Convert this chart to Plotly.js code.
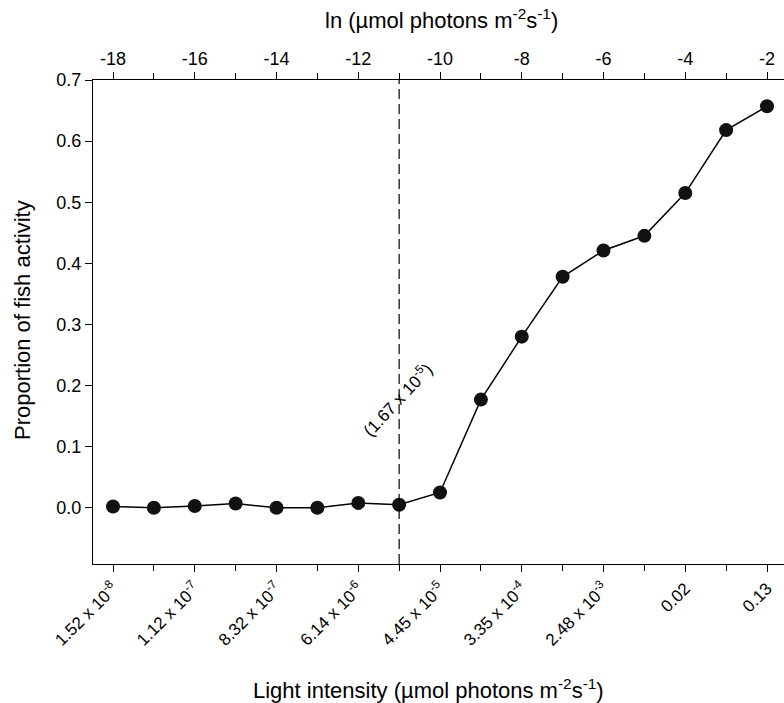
<!DOCTYPE html>
<html>
<head>
<meta charset="utf-8">
<script src="https://cdn.plot.ly/plotly-3.0.1.min.js"></script>
<style>html,body{margin:0;padding:0;background:#fff;}#chart{width:784px;height:703px;}</style>
</head>
<body>
<div id="chart"></div>
<script>
// ln(light intensity) values of the measurements
const lnIntensity = [-18, -17, -16, -15, -14, -13, -12, -11, -10, -9, -8, -7, -6, -5, -4, -3, -2];
// proportion of fish activity
const activity = [0.002, 0.000, 0.003, 0.007, 0.000, 0.000, 0.008, 0.005, 0.025, 0.177, 0.280, 0.378, 0.421, 0.445, 0.515, 0.618, 0.657];
// tick labels
const topTickVals = [-18, -16, -14, -12, -10, -8, -6, -4, -2];
const topTickText = ["-18", "-16", "-14", "-12", "-10", "-8", "-6", "-4", "-2"];
const bottomTickText = ["1.52 x 10<sup>-8</sup>", "1.12 x 10<sup>-7</sup>", "8.32 x 10<sup>-7</sup>", "6.14 x 10<sup>-6</sup>",
  "4.45 x 10<sup>-5</sup>", "3.35 x 10<sup>-4</sup>", "2.48 x 10<sup>-3</sup>", "0.02", "0.13"];
const thresholdLn = -11;
const thresholdLabel = "(1.67 x 10<sup>-5</sup>)";

const FONT = "Liberation Sans, Arial, sans-serif";
const xRange = [-18.49, -1.584];
const yRange = [-0.092, 0.7];

const traces = [
  {x: lnIntensity, y: activity, type: 'scatter', mode: 'lines+markers',
   line: {color: '#000', width: 1.5}, marker: {color: '#111', size: 14},
   hoverinfo: 'x+y', xaxis: 'x', yaxis: 'y'},
  {x: lnIntensity, y: activity, type: 'scatter', mode: 'markers',
   marker: {opacity: 0}, hoverinfo: 'skip', showlegend: false, xaxis: 'x2', yaxis: 'y'}
];

const minorTicks = {dtick: 1, tick0: -18, ticks: 'outside', ticklen: 6, tickcolor: '#000', tickwidth: 1, showgrid: false};

const layout = {
  width: 784, height: 703,
  margin: {l: 93, r: 0, t: 80, b: 139},
  paper_bgcolor: '#fff', plot_bgcolor: '#fff',
  showlegend: false,
  font: {family: FONT, color: '#000', size: 17},
  xaxis: {
    range: xRange, tickmode: 'array', tickvals: topTickVals, ticktext: bottomTickText,
    tickangle: -45, ticks: 'outside', ticklen: 7, tickcolor: '#000',
    showline: true, linecolor: '#000', linewidth: 1, showgrid: false, zeroline: false,
    tickfont: {family: FONT, size: 17, color: '#000'}, minor: minorTicks
  },
  xaxis2: {
    range: xRange, overlaying: 'x', side: 'top', anchor: 'y',
    tickmode: 'array', tickvals: topTickVals, ticktext: topTickText,
    ticks: 'outside', ticklen: 7, tickcolor: '#000',
    showline: true, linecolor: '#000', linewidth: 1, showgrid: false, zeroline: false,
    tickfont: {family: FONT, size: 18, color: '#000'}, minor: minorTicks
  },
  yaxis: {
    range: yRange, tickmode: 'linear', tick0: 0, dtick: 0.1, tickformat: '.1f',
    ticks: 'outside', ticklen: 7, tickcolor: '#000',
    showline: true, linecolor: '#000', linewidth: 1, showgrid: false, zeroline: false,
    tickfont: {family: FONT, size: 18, color: '#000'}
  },
  shapes: [
    {type: 'line', xref: 'x', yref: 'paper', x0: thresholdLn, x1: thresholdLn, y0: 0, y1: 1,
     line: {color: '#000', width: 1.2, dash: '10px,5px'}}
  ],
  annotations: [
    {text: thresholdLabel, xref: 'x', yref: 'y', x: thresholdLn - 0.05, y: 0.178,
     showarrow: false, textangle: -47, font: {family: FONT, size: 17, color: '#000'}},
    {text: 'ln (µmol photons m<sup>-2</sup>s<sup>-1</sup>)', xref: 'paper', yref: 'paper',
     x: (441 - 93) / 691, y: 1, yshift: 61, showarrow: false, xanchor: 'center', yanchor: 'middle',
     font: {family: FONT, size: 22, color: '#000'}},
    {text: 'Light intensity (µmol photons m<sup>-2</sup>s<sup>-1</sup>)', xref: 'paper', yref: 'paper',
     x: (428 - 93) / 691, y: 0, yshift: -125, showarrow: false, xanchor: 'center', yanchor: 'middle',
     font: {family: FONT, size: 22, color: '#000'}},
    {text: 'Proportion of fish activity', xref: 'paper', yref: 'paper',
     x: 0, xshift: -71, y: (564 - 320) / 484, showarrow: false, textangle: -90,
     xanchor: 'center', yanchor: 'middle', font: {family: FONT, size: 22, color: '#000'}}
  ]
};

Plotly.newPlot('chart', traces, layout, {displayModeBar: false, staticPlot: true});
</script>
</body>
</html>
